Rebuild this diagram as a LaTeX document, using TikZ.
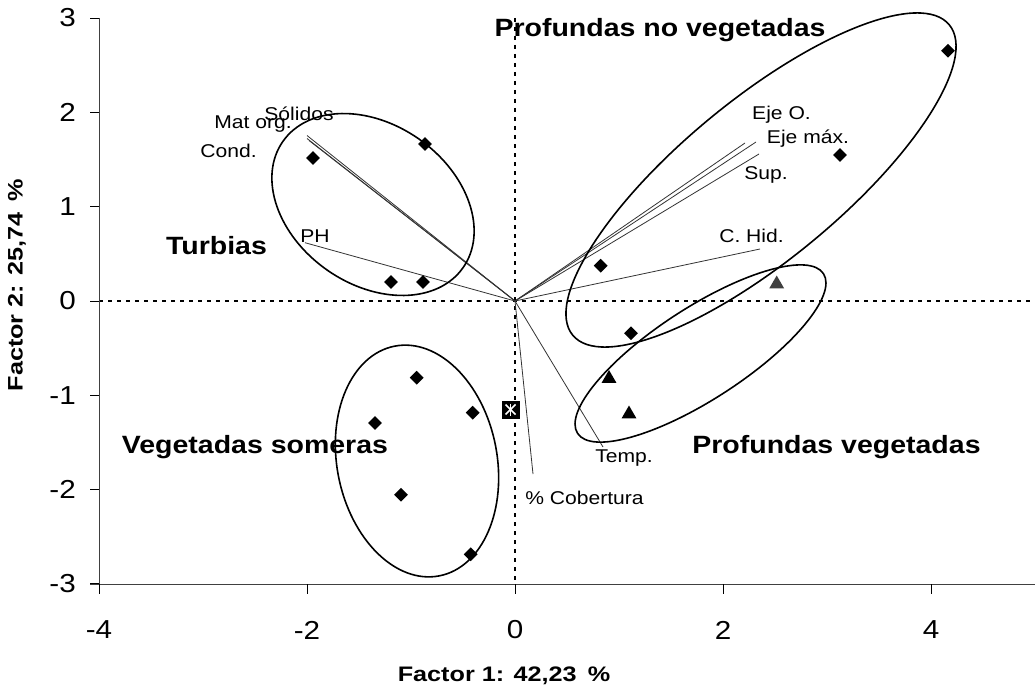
\documentclass[tikz,border=0pt]{standalone}
\usepackage{fontspec}
\setmainfont{Liberation Sans}
\usepackage{graphicx}
\usetikzlibrary{shapes.geometric}
\newcommand{\hs}[1]{\scalebox{1.14}[1]{#1}}
\newcommand{\ts}[1]{\scalebox{1.2}[1]{#1}}
\begin{document}
\begin{tikzpicture}[x=1pt,y=-1pt,
 ticklab/.style={font=\fontsize{26}{30}\selectfont, inner sep=0pt},
 grouplab/.style={font=\bfseries\fontsize{25}{30}\selectfont, inner sep=0pt},
 varlab/.style={font=\fontsize{18.5}{22}\selectfont, inner sep=0pt},
 axtitle/.style={font=\bfseries\fontsize{21}{25}\selectfont, inner sep=0pt},
 loading/.style={draw=black!80, line width=0.8pt},
 groupell/.style={draw=black, line width=1.6pt},
 refline/.style={draw=black, line width=1.6pt, dash pattern=on 4pt off 5pt},
 axisline/.style={draw=black!75, line width=1pt},
 tickmark/.style={draw=black, line width=0.9pt},
 diam/.style={fill=black, draw=none, shape=diamond, minimum size=14pt, inner sep=0pt},
 tri/.style={fill=black, draw=none, regular polygon, regular polygon sides=3, minimum size=17pt, inner sep=0pt},
]
\useasboundingbox (0,0) rectangle (1035,690);
\fill[white] (0,0) rectangle (1035,690);

% reference lines
\coordinate (O) at (515,301);
\coordinate (vtop) at (515,18);
\coordinate (vbot) at (515,584);
\coordinate (hl) at (99,301);
\coordinate (hr) at (1035,301);
\draw[refline] (vtop) -- (vbot);
\draw[refline] (hl) -- (hr);

% axes
\coordinate (ytop) at (99,18);
\coordinate (ybot) at (99,584);
\coordinate (xl) at (90,584);
\coordinate (xr) at (1035,584);
\draw[axisline] (ytop) -- (ybot);
\draw[axisline] (xl) -- (xr);
\foreach \yy/\lab in {18/3,112.4/2,206.7/1,301/0,395.3/-1,489.6/-2,583.9/-3}{
  \draw[tickmark] (90,\yy) -- (99,\yy);
  \node[ticklab, anchor=east] (yl\lab) at (76,\yy) {\hs{\lab}};
}
\foreach \xx/\lab in {99/-4,307/-2,515/0,723/2,931/4}{
  \draw[tickmark] (\xx,584) -- (\xx,594);
  \node[ticklab] (xl\lab) at (\xx,630) {\hs{\lab}};
}

% axis titles
\node[axtitle] (xtitle) at (504,676) {\ts{Factor 1: 42,23 \,\%}};
\node[axtitle, rotate=90] (ytitle) at (17,285) {\ts{Factor 2: 25,74 \,\%}};

% loading vectors
\coordinate (eSol) at (307,135.5);
\coordinate (eMat) at (307,138.5);
\coordinate (eCond) at (309,140.5);
\coordinate (ePH) at (305,242.7);
\coordinate (eEjeO) at (745,143);
\coordinate (eEjeM) at (756,142);
\coordinate (eSup) at (759,154);
\coordinate (eCHid) at (760,249);
\coordinate (eTemp) at (603,447);
\coordinate (eCob) at (533,474);
\foreach \e in {eSol,eMat,eCond,ePH,eEjeO,eEjeM,eSup,eCHid,eTemp,eCob}{
  \draw[loading] (O) -- (\e);
}

% group ellipses
\draw[groupell, rotate around={-35:(373,204.5)}] (373,204.5) ellipse [x radius=110, y radius=80];
\draw[groupell, rotate around={39.5:(761,180)}] (761,180) ellipse [x radius=244, y radius=80];
\draw[groupell, rotate around={33:(700.5,353.5)}] (700.5,353.5) ellipse [x radius=146.6, y radius=45.8];
\draw[groupell, rotate around={11:(417,461)}] (417,461) ellipse [x radius=80, y radius=117];

% data points
\node[diam] (p1) at (313,158) {};
\node[diam] (p2) at (425,144) {};
\node[diam] (p3) at (391,282) {};
\node[diam] (p4) at (423,282) {};
\node[diam] (p5) at (600.7,265.7) {};
\node[diam] (p6) at (631,333.3) {};
\node[diam] (p7) at (840,155) {};
\node[diam] (p8) at (948,50.7) {};
\node[diam] (p9) at (416.7,377.7) {};
\node[diam] (p10) at (375,423) {};
\node[diam] (p11) at (472.7,412.7) {};
\node[diam] (p12) at (401,494.7) {};
\node[diam] (p13) at (470.7,554.3) {};
\node[tri, fill=black!75] (t1) at (776.7,284) {};
\node[tri] (t2) at (609,378.5) {};
\node[tri] (t3) at (629,414) {};
\node[fill=black, minimum size=18pt, inner sep=0pt] (st) at (510.5,409.5) {};
\draw[white, line width=1.6pt] ([shift={(-5,-5)}]st.center) -- ([shift={(5,5)}]st.center);
\draw[white, line width=1.6pt] ([shift={(-5,5)}]st.center) -- ([shift={(5,-5)}]st.center);
\draw[white, line width=1.6pt] ([shift={(0,-6)}]st.center) -- ([shift={(0,6)}]st.center);

% variable labels
\node[varlab] (lSol) at (299,114) {\hs{Sólidos}};
\node[varlab] (lMat) at (253,124) {\hs{Mat org.}};
\node[varlab] (lCond) at (228.5,151) {\hs{Cond.}};
\node[varlab] (lPH) at (315,236) {\hs{PH}};
\node[varlab] (lEjeO) at (781.5,114.5) {\hs{Eje O.}};
\node[varlab] (lEjeM) at (808,139) {\hs{Eje máx.}};
\node[varlab] (lSup) at (766,175) {\hs{Sup.}};
\node[varlab] (lCHid) at (751.5,236) {\hs{C. Hid.}};
\node[varlab] (lTemp) at (624,458) {\hs{Temp.}};
\node[varlab] (lCob) at (584.5,498) {\hs{\% Cobertura}};

% group labels
\node[grouplab] (gTur) at (216.5,246) {\hs{Turbias}};
\node[grouplab] (gPNV) at (660,30) {\hs{Profundas no vegetadas}};
\node[grouplab] (gVS) at (255,447) {\hs{Vegetadas someras}};
\node[grouplab] (gPV) at (836.5,447) {\hs{Profundas vegetadas}};
\end{tikzpicture}
\end{document}
